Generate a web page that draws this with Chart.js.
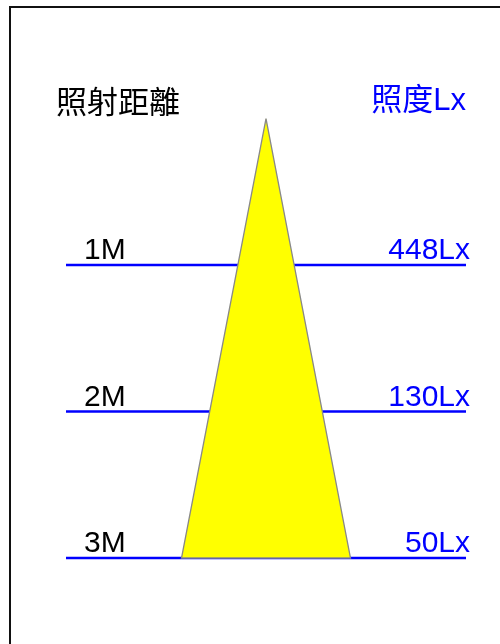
<!DOCTYPE html>
<html>
<head>
<meta charset="utf-8">
<script src="https://cdn.jsdelivr.net/npm/chart.js@4/dist/chart.umd.min.js"></script>
<style>
  html, body { margin: 0; padding: 0; background: #fff; overflow: hidden; }
  #wrap { position: relative; width: 500px; height: 644px; }
  #frame {
    position: absolute; left: 9px; top: 6px; right: -10px; bottom: -10px;
    border: 2px solid #111; pointer-events: none;
  }
  canvas { position: absolute; left: 0; top: 0; }
</style>
</head>
<body>
<div id="wrap">
  <canvas id="beamChart" width="500" height="644"></canvas>
  <div id="frame"></div>
</div>
<script>
// ---- Data ----
const distances = [1, 2, 3];              // metres from the lamp
const distLabels = ['1M', '2M', '3M'];
const luxValues = [448, 130, 50];         // illuminance at each distance
const beamDepth = [0, 3];                 // apex -> base (m)
const beamHalfWidth = [0, 0.845];         // half width of beam at those depths
const headerLeft = '照射距離';
const headerRight = '照度Lx';

// ---- Datasets ----
const beamPoints = [
  { x: 0, y: beamDepth[0] },
  { x: beamHalfWidth[1], y: beamDepth[1] },
  { x: -beamHalfWidth[1], y: beamDepth[1] },
  { x: 0, y: beamDepth[0] }
];

const datasets = [{
  label: 'beam',
  data: beamPoints,
  showLine: true,
  fill: 'shape',
  backgroundColor: '#ffff00',
  borderColor: '#888888',
  borderWidth: 1.3,
  pointRadius: 0,
  tension: 0
}];

distances.forEach((d, i) => {
  datasets.push({
    label: distLabels[i],
    data: [{ x: -2, y: d }, { x: 2, y: d }],
    showLine: true,
    fill: false,
    borderColor: '#0000ff',
    borderWidth: 2.4,
    pointRadius: 0
  });
});

// ---- Labels plugin ----
const labelPlugin = {
  id: 'beamLabels',
  afterDraw(chart) {
    const ctx = chart.ctx;
    const xs = chart.scales.x;
    const ys = chart.scales.y;
    const left = xs.getPixelForValue(-2);
    const right = xs.getPixelForValue(2);
    const apexY = ys.getPixelForValue(0);

    ctx.save();
    // headers
    ctx.textBaseline = 'middle';
    ctx.font = '31px "Noto Sans CJK TC", "Liberation Sans", sans-serif';
    ctx.fillStyle = '#000';
    ctx.textAlign = 'left';
    ctx.fillText(headerLeft, left - 10, apexY - 17);
    ctx.font = '31px "Liberation Sans", "Noto Sans CJK TC", sans-serif';
    ctx.fillStyle = '#0000ff';
    ctx.textAlign = 'right';
    ctx.fillText(headerRight, right, apexY - 17);

    // per-distance labels
    ctx.textBaseline = 'alphabetic';
    ctx.font = '30px "Liberation Sans", Arial, sans-serif';
    distances.forEach((d, i) => {
      const y = ys.getPixelForValue(d) - 6;
      ctx.fillStyle = '#000';
      ctx.textAlign = 'left';
      ctx.fillText(distLabels[i], left + 18, y);
      ctx.fillStyle = '#0000ff';
      ctx.textAlign = 'right';
      ctx.fillText(luxValues[i] + 'Lx', right + 4, y);
    });
    ctx.restore();
  }
};

new Chart(document.getElementById('beamChart').getContext('2d'), {
  type: 'scatter',
  data: { datasets },
  options: {
    responsive: false,
    animation: false,
    layout: { padding: 0 },
    plugins: { legend: { display: false }, tooltip: { enabled: false } },
    scales: {
      x: { type: 'linear', display: false, min: -2.66, max: 2.34 },
      y: { type: 'linear', display: false, reverse: true, min: -0.809, max: 3.587 }
    }
  },
  plugins: [labelPlugin]
});
</script>
</body>
</html>
